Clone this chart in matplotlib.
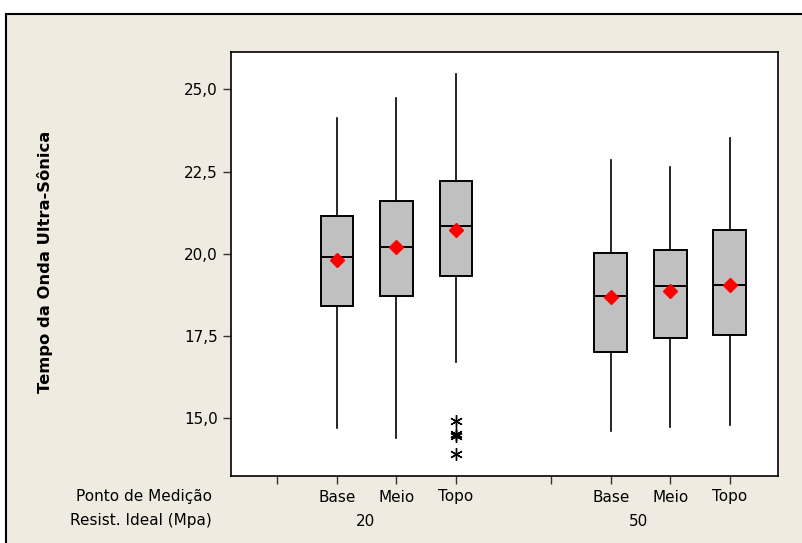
import matplotlib
matplotlib.use("Agg")
import matplotlib.pyplot as plt
from matplotlib.patches import Rectangle
from matplotlib.transforms import blended_transform_factory

# ---- data ----
ponto = ["Base", "Meio", "Topo", "Base", "Meio", "Topo"]
resist = ["20", "50"]
whis_lo = [14.68, 14.39, 16.69, 14.61, 14.71, 14.78]
q1 = [18.40, 18.71, 19.32, 17.00, 17.43, 17.52]
median = [19.90, 20.19, 20.85, 18.71, 19.01, 19.05]
q3 = [21.14, 21.61, 22.21, 20.03, 20.12, 20.71]
whis_hi = [24.12, 24.73, 25.46, 22.85, 22.63, 23.52]
means = [19.80, 20.20, 20.72, 18.67, 18.87, 19.05]
outliers = [[], [], [14.90, 14.50, 14.45, 13.89], [], [], []]
yticks = [15.0, 17.5, 20.0, 22.5, 25.0]

# ---- layout ----
positions = [1, 2, 3, 5.6, 6.6, 7.6]
dividers = [0, 4.6]
group_label_x = [1.48, 6.07]

bg = "#EFEBE1"
fig = plt.figure(figsize=(8.02, 5.43), dpi=100)
fig.patch.set_facecolor("white")
fig.patches.append(Rectangle((6 / 802, -0.1), 1.1, (543 - 14) / 543 + 0.1,
                             transform=fig.transFigure, facecolor=bg,
                             edgecolor="black", linewidth=1.5, zorder=-10))

ax = fig.add_axes([231 / 802, (543 - 476) / 543, (778 - 231) / 802, (476 - 52) / 543])
ax.set_facecolor("white")

stats = []
for i in range(len(positions)):
    stats.append(dict(med=median[i], q1=q1[i], q3=q3[i], whislo=whis_lo[i],
                      whishi=whis_hi[i], fliers=outliers[i], mean=means[i]))

ax.bxp(stats, positions=positions, widths=0.55, patch_artist=True,
       showcaps=False, showfliers=True,
       boxprops=dict(facecolor="#C0C0C0", edgecolor="black", linewidth=1.4),
       medianprops=dict(color="black", linewidth=1.4),
       whiskerprops=dict(color="black", linewidth=1.2),
       flierprops=dict(marker=(6, 2, 0), markersize=9, markeredgecolor="black",
                       markeredgewidth=1.0, linestyle="none"))

ax.plot(positions, means, linestyle="none", marker="D", markersize=7.5,
        color="#FF0000", zorder=5)

ax.set_xlim(-0.78, 8.41)
ax.set_ylim(13.23, 26.14)
ax.set_yticks(yticks)
ax.set_yticklabels([f"{v:.1f}".replace(".", ",") for v in yticks], fontsize=11)
ax.set_xticks(sorted(positions + dividers))
ax.set_xticklabels([])
ax.tick_params(axis="both", direction="out", length=6, width=1, color="#333333")

for s in ax.spines.values():
    s.set_linewidth(1.2)
    s.set_color("black")

trans = blended_transform_factory(ax.transData, fig.transFigure)
y1 = 1 - 497 / 543
y2 = 1 - 521 / 543
for p, lab in zip(positions, ponto):
    ax.text(p, y1, lab, transform=trans, ha="center", va="center", fontsize=11)
for gx, lab in zip(group_label_x, resist):
    ax.text(gx, y2, lab, transform=trans, ha="center", va="center", fontsize=11)

fig.text(212 / 802, y1, "Ponto de Medição", ha="right", va="center", fontsize=11)
fig.text(212 / 802, y2, "Resist. Ideal (Mpa)", ha="right", va="center", fontsize=11)
fig.text(45 / 802, 1 - 262 / 543, "Tempo da Onda Ultra-Sônica", rotation=90,
         ha="center", va="center", fontsize=11.8, fontweight="bold")

fig.savefig("out.png", dpi=100, facecolor=fig.get_facecolor())
